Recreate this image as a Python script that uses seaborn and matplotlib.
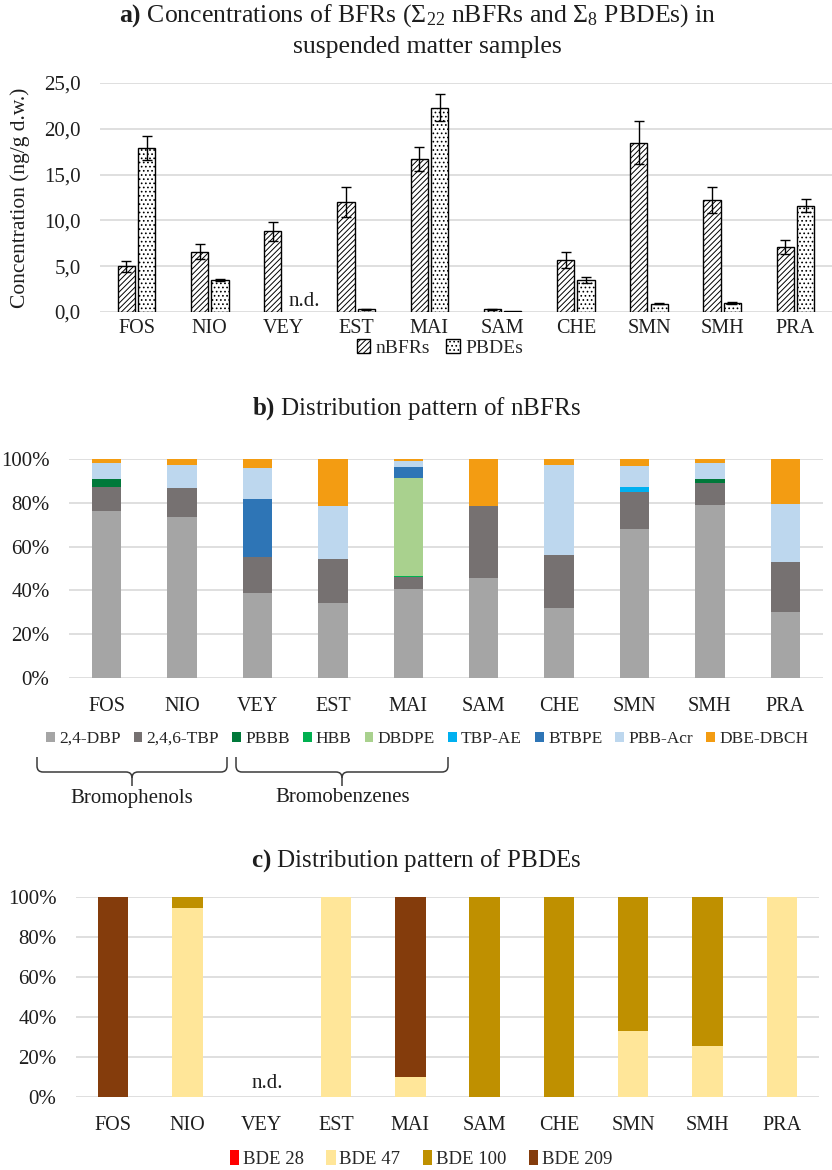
import numpy as np
import pandas as pd
import matplotlib
matplotlib.use("Agg")
import matplotlib.pyplot as plt
from matplotlib.patches import Patch, PathPatch
from matplotlib.path import Path
from matplotlib.ticker import FuncFormatter
import seaborn as sns

# ---------------- data ----------------
sites = ["FOS", "NIO", "VEY", "EST", "MAI", "SAM", "CHE", "SMN", "SMH", "PRA"]

# a) concentrations (ng/g d.w.), mean and error
nbfr_conc = [5.0, 6.6, 8.8, 12.0, 16.7, 0.3, 5.7, 18.5, 12.2, 7.1]
nbfr_err = [0.6, 0.85, 1.05, 1.6, 1.3, 0.05, 0.9, 2.3, 1.4, 0.8]
pbde_conc = [17.9, 3.5, np.nan, 0.3, 22.3, 0.1, 3.5, 0.9, 1.0, 11.6]
pbde_err = [1.3, 0.15, np.nan, 0.05, 1.5, 0.0, 0.3, 0.05, 0.1, 0.7]

# b) nBFR composition (%)
nbfr_names = ["2,4-DBP", "2,4,6-TBP", "PBBB", "HBB", "DBDPE", "TBP-AE",
              "BTBPE", "PBB-Acr", "DBE-DBCH"]
dbp = [76.3, 73.5, 38.8, 34.2, 40.6, 45.7, 32.0, 68.0, 79.0, 30.3]
tbp = [10.9, 13.3, 16.5, 20.1, 5.5, 32.9, 24.2, 17.0, 10.2, 22.8]
pbbb = [3.7, 0, 0, 0, 0, 0, 0, 0, 1.7, 0]
hbb = [0, 0, 0, 0, 0.5, 0, 0, 0, 0, 0]
dbdpe = [0, 0, 0, 0, 44.7, 0, 0, 0, 0, 0]
tbpae = [0, 0, 0, 0, 0, 0, 0, 2.0, 0, 0]
btbpe = [0, 0, 26.4, 0, 5.0, 0, 0, 0, 0, 0]
pbbacr = [7.3, 10.5, 14.2, 24.3, 2.8, 0, 41.1, 10.0, 7.3, 26.4]
dbedbch = [1.8, 2.7, 4.1, 21.4, 0.9, 21.4, 2.7, 3.0, 1.8, 20.5]
nbfr_colors = ["#A5A5A5", "#767171", "#00793A", "#00B050", "#A9D18E",
               "#00B0F0", "#2E75B6", "#BDD7EE", "#F39C12"]

# c) PBDE composition (%)
pbde_names = ["BDE 28", "BDE 47", "BDE 100", "BDE 209"]
bde28 = [0, 0, 0, 0, 0, 0, 0, 0, 0, 0]
bde47 = [0, 94.5, 0, 100, 10, 0, 0, 33, 25.5, 100]
bde100 = [0, 5.5, 0, 0, 0, 100, 100, 67, 74.5, 0]
bde209 = [100, 0, 0, 0, 90, 0, 0, 0, 0, 0]
pbde_colors = ["#FF0000", "#FFE699", "#BF9000", "#843C0C"]

# ---------------- style ----------------
sns.set_theme(style="white")
plt.rcParams["font.family"] = ["Liberation Serif", "DejaVu Serif"]
plt.rcParams["mathtext.fontset"] = "custom"
plt.rcParams["mathtext.rm"] = "Liberation Serif"
plt.rcParams["mathtext.bf"] = "Liberation Serif:bold"
plt.rcParams["mathtext.it"] = "Liberation Serif:italic"
plt.rcParams["hatch.linewidth"] = 0.7
plt.rcParams["hatch.color"] = "black"

W, H = 832, 1170
fig = plt.figure(figsize=(W / 100, H / 100), dpi=100)
GRID = "#D9D9D9"
TXT = "#1E1E1E"


def fx(x):
    return x / W


def fy(y):
    return 1 - y / H


def add_axes(left, right, top, bottom):
    return fig.add_axes([fx(left), fy(bottom), fx(right) - fx(left), (bottom - top) / H])


def style_axes(ax, ypad, xpad, ysize=15, xsize=14.5):
    for s in ax.spines.values():
        s.set_visible(False)
    ax.yaxis.grid(True, color=GRID, lw=1.2)
    ax.set_axisbelow(True)
    ax.tick_params(axis="both", length=0, colors=TXT)
    ax.tick_params(axis="y", pad=ypad, labelsize=ysize)
    ax.tick_params(axis="x", pad=xpad, labelsize=xsize)
    ax.set_xlabel("")
    ax.set_ylabel("")
    ax.set_xlim(-0.5, len(sites) - 0.5)


# ---------------- a) concentrations ----------------
ax_a = add_axes(100, 832, 83, 312)
df_a = pd.DataFrame({
    "site": sites * 2,
    "group": ["nBFRs"] * len(sites) + ["PBDEs"] * len(sites),
    "conc": nbfr_conc + pbde_conc,
})
sns.barplot(data=df_a, x="site", y="conc", hue="group", order=sites,
            hue_order=["nBFRs", "PBDEs"], palette=["white", "white"],
            width=0.56, gap=0.16, edgecolor="black", linewidth=1.0,
            saturation=1, errorbar=None, legend=False, ax=ax_a)
hatches = ["//////", "...."]
errs = [nbfr_err, pbde_err]
for cont, hatch, err in zip(ax_a.containers, hatches, errs):
    for bar in cont:
        bar.set_hatch(hatch)
        h = bar.get_height()
        xc = bar.get_x() + bar.get_width() / 2
        i = int(round(xc))
        if np.isfinite(h) and np.isfinite(err[i]) and err[i] > 0:
            ax_a.errorbar(xc, h, yerr=err[i], color="black", capsize=3.5,
                          elinewidth=1, capthick=1, zorder=5)
ax_a.set_ylim(0, 25)
ax_a.set_yticks([0, 5, 10, 15, 20, 25])
ax_a.yaxis.set_major_formatter(FuncFormatter(lambda v, p: f"{v:.1f}".replace(".", ",")))
style_axes(ax_a, ypad=14, xpad=5)
ax_a.text(2.29, 1.2, "n.d.", ha="center", va="center", fontsize=15, color=TXT)
fig.text(fx(20), fy(198), "Concentration (ng/g d.w.)", rotation=90,
         ha="center", va="center", fontsize=15.5, color=TXT)

fig.text(fx(418), fy(16),
         r"$\mathbf{a)}$ Concentrations of BFRs ($\Sigma_{22}$ nBFRs and $\Sigma_{8}$ PBDEs) in",
         ha="center", va="center", fontsize=18.5, color=TXT)
fig.text(fx(427), fy(47), "suspended matter samples",
         ha="center", va="center", fontsize=18.5, color=TXT)

leg_a = [Patch(facecolor="white", edgecolor="black", hatch=h, label=l)
         for h, l in zip(hatches, ["nBFRs", "PBDEs"])]
fig.legend(handles=leg_a, loc="center", bbox_to_anchor=(fx(440), fy(348)),
           ncol=2, frameon=False, fontsize=14, handlelength=0.7,
           handleheight=0.7, handletextpad=0.3, columnspacing=0.8)


# ---------------- stacked percentage helper ----------------
def stacked(ax, comps, colors, width):
    cum = np.cumsum(np.array(comps, dtype=float), axis=0)
    for k in range(len(comps) - 1, -1, -1):
        df = pd.DataFrame({"site": sites, "pct": cum[k]})
        sns.barplot(data=df, x="site", y="pct", order=sites, color=colors[k],
                    saturation=1, width=width, linewidth=0, errorbar=None, ax=ax)
    ax.set_ylim(0, 100)
    ax.set_yticks([0, 20, 40, 60, 80, 100])
    ax.yaxis.set_major_formatter(FuncFormatter(lambda v, p: f"{v:.0f}%"))


# ---------------- b) nBFR distribution ----------------
ax_b = add_axes(69, 823, 459, 678)
stacked(ax_b, [dbp, tbp, pbbb, hbb, dbdpe, tbpae, btbpe, pbbacr, dbedbch],
        nbfr_colors, 0.39)
style_axes(ax_b, ypad=14, xpad=14)
fig.text(fx(416), fy(409), r"$\mathbf{b)}$ Distribution pattern of nBFRs",
         ha="center", va="center", fontsize=18, color=TXT)
leg_b = [Patch(facecolor=c, edgecolor="none", label=n)
         for c, n in zip(nbfr_colors, nbfr_names)]
fig.legend(handles=leg_b, loc="center", bbox_to_anchor=(fx(427), fy(739)),
           ncol=9, frameon=False, fontsize=12.5, handlelength=0.5,
           handleheight=0.5, handletextpad=0.25, columnspacing=0.75)


def brace(x0, x1, yt, ym, yb, r=6):
    xc = (x0 + x1) / 2
    left = [(x0, yt), (x0, ym - r), (x0, ym), (x0 + r, ym), (xc - r, ym),
            (xc, ym), (xc, ym + r), (xc, yb)]
    right = [(x1, yt), (x1, ym - r), (x1, ym), (x1 - r, ym), (xc + r, ym),
             (xc, ym), (xc, ym + r)]
    codes_l = [Path.MOVETO, Path.LINETO, Path.CURVE3, Path.CURVE3, Path.LINETO,
               Path.CURVE3, Path.CURVE3, Path.LINETO]
    codes_r = codes_l[:-1]
    for verts, codes in ((left, codes_l), (right, codes_r)):
        pts = [(fx(x), fy(y)) for x, y in verts]
        fig.add_artist(PathPatch(Path(pts, codes), transform=fig.transFigure,
                                 fill=False, edgecolor="#3A3A3A", lw=1.1))


brace(37, 227, 757, 772, 786)
brace(236, 448, 757, 772, 786)
fig.text(fx(132), fy(798), "Bromophenols", ha="center", va="center",
         fontsize=15, color=TXT)
fig.text(fx(343), fy(798), "Bromobenzenes", ha="center", va="center",
         fontsize=15, color=TXT)

# ---------------- c) PBDE distribution ----------------
ax_c = add_axes(76, 819, 897, 1097)
stacked(ax_c, [bde28, bde47, bde100, bde209], pbde_colors, 0.41)
style_axes(ax_c, ypad=14, xpad=14)
ax_c.text(2.08, 7, "n.d.", ha="center", va="center", fontsize=15, color=TXT)
fig.text(fx(416), fy(861), r"$\mathbf{c)}$ Distribution pattern of PBDEs",
         ha="center", va="center", fontsize=18, color=TXT)
leg_c = [Patch(facecolor=c, edgecolor="none", label=n)
         for c, n in zip(pbde_colors, pbde_names)]
fig.legend(handles=leg_c, loc="center", bbox_to_anchor=(fx(421), fy(1159)),
           ncol=4, frameon=False, fontsize=13.5, handlelength=0.5,
           handleheight=0.8, handletextpad=0.2, columnspacing=1.2)

fig.savefig("out.png", dpi=100, facecolor="white")
